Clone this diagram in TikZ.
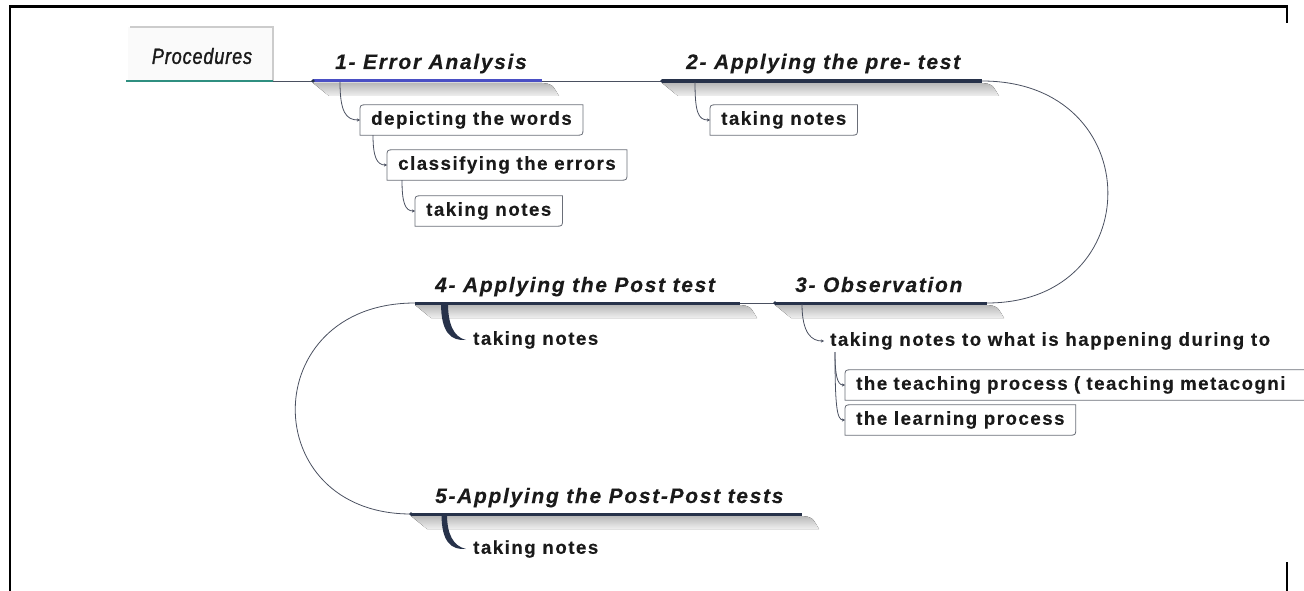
\documentclass[tikz,border=0pt]{standalone}
\usepackage{fontspec}
\setmainfont{Liberation Sans}
\usetikzlibrary{arrows.meta,calc}

\definecolor{spine}{HTML}{27324A}
\definecolor{spineblue}{HTML}{4A4FC4}
\definecolor{tabteal}{HTML}{2F8F80}
\definecolor{wire}{HTML}{4A5060}
\definecolor{boxline}{HTML}{6A6E78}
\definecolor{ink}{HTML}{1A1A1A}

\tikzset{
  frame/.style={line width=2.4pt, black, line join=miter},
  heading/.style={font=\fontsize{21}{23}\selectfont\bfseries\itshape\addfontfeature{LetterSpace=8,FakeBold=0.3},
                  text=ink, anchor=base west, inner sep=0pt},
  leaftext/.style={font=\fontsize{18.7}{20}\selectfont\bfseries\addfontfeature{LetterSpace=8,FakeBold=0.3},
                   text=ink, anchor=west, inner xsep=6pt, inner ysep=0pt},
  leafbox/.style={leaftext, inner xsep=11pt, minimum height=30pt},
  leafline/.style={draw=boxline, line width=0.8pt},
  proctext/.style={font=\fontsize{22}{24}\selectfont\itshape\addfontfeature{FakeStretch=0.82,FakeBold=1.4,LetterSpace=4},
                   text=ink, inner sep=0pt},
  wire/.style={draw=wire, line width=0.8pt},
  twig/.style={wire, -{Stealth[length=3.2pt,width=3.2pt]}},
  bar/.style={draw=spine, line width=3pt},
  barblue/.style={draw=spineblue, line width=3pt},
  drop/.style={top color=gray!55, bottom color=gray!12, draw=none},
  knot/.style={fill=spine},
}

% frame of a leaf box: rounded top-left and bottom-right corners
\newcommand\leafframe[1]{%
  \draw[leafline] (#1.south west) -- ([yshift=-7pt]#1.north west)
    .. controls (#1.north west) .. ([xshift=7pt]#1.north west)
    -- (#1.north east) -- ([yshift=7pt]#1.south east)
    .. controls (#1.south east) .. ([xshift=-7pt]#1.south east) -- cycle;}

% soft shadow under a topic bar
\newcommand\bardrop[2]{%
  \fill[drop] ($(#1)+(0,2)$) -- ($(#2)+(0,2)$) .. controls ($(#2)+(10,3)$) .. ($(#2)+(17,15)$)
    -- ($(#1)+(16,15)$) -- cycle;}

\begin{document}
\begin{tikzpicture}[x=1pt,y=-1pt]
\useasboundingbox (0,0) rectangle (1304,591);

% page frame
\draw[frame] (10,591) -- (10,6.5) -- (1287,6.5) -- (1287,23);
\draw[frame] (1287,562) -- (1287,591);

% bar end points
\coordinate (p0) at (126,81);  \coordinate (p1) at (273,81);
\coordinate (a1) at (313,81);  \coordinate (b1) at (542,81);
\coordinate (a2) at (662,81);  \coordinate (b2) at (982,81);
\coordinate (a3) at (775,303); \coordinate (b3) at (987,303);
\coordinate (a4) at (415,303); \coordinate (b4) at (740,303);
\coordinate (a5) at (411,514); \coordinate (b5) at (802,514);

% shadows
\bardrop{a1}{b1}
\bardrop{a2}{b2}
\bardrop{a3}{b3}
\bardrop{a4}{b4}
\bardrop{a5}{b5}

% root tab
\fill[gray!4] (128,27) rectangle (273,81);
\draw[gray!40, line width=1.4pt] (130,27) -- (273,27) -- (273,81);
\node[proctext] (proc) at (202,56) {Procedures};
\draw[tabteal, line width=2.6pt] (p0) -- (p1);

% links between topics
\draw[wire] (p1) -- (a1);
\draw[wire] (b1) -- (a2);
\draw[wire] (b2) .. controls (1149,81) and (1149,303) .. (b3);
\draw[wire] (b4) -- (a3);
\draw[wire] (a4) .. controls (256,303) and (256,514) .. (a5);

% topic bars
\draw[barblue] (a1) -- (b1);
\draw[bar, line width=3.4pt] (a2) -- (b2);
\draw[bar] (a3) -- (b3);
\draw[bar] (a4) -- (b4);
\draw[bar] (a5) -- (b5);
\foreach \k in {a1,a2,a3,a5} \fill[knot] (\k) circle (1.8);

% topic titles
\node[heading] (h1) at (335,69) {1- Error Analysis};
\node[heading] (h2) at (686,69) {2- Applying the pre- test};
\node[heading] (h3) at (795,292) {3- Observation};
\node[heading] (h4) at (435,292) {4- Applying the Post test};
\node[heading] (h5) at (435,503) {5-Applying the Post-Post tests};

% 1- Error Analysis
\node[leafbox] (e1) at (360,120) {depicting the words};
\node[leafbox] (e2) at (387,165) {classifying the errors};
\node[leafbox] (e3) at (415,211) {taking notes};
\leafframe{e1}\leafframe{e2}\leafframe{e3}
\coordinate (c1) at (340,82);
\draw[twig] (c1) .. controls +(0,30) and +(-14,0) .. (e1.west);
\draw[twig] ($(e1.south west)+(13,0)$) .. controls +(0,22) and +(-10,0) .. (e2.west);
\draw[twig] ($(e2.south west)+(15,0)$) .. controls +(0,22) and +(-10,0) .. (e3.west);

% 2- Applying the pre- test
\node[leafbox] (t2) at (710,120) {taking notes};
\leafframe{t2}
\coordinate (c2) at (695,82);
\draw[twig] (c2) .. controls +(0,30) and +(-12,0) .. (t2.west);

% 3- Observation
\node[leaftext] (o1) at (824,341) {taking notes to what is happening during to};
\node[leafbox, minimum width=500pt, text width=478pt, align=left] (o2) at (845,385) {the teaching process ( teaching metacogni};
\node[leafbox] (o3) at (845,420) {the learning process};
\leafframe{o2}\leafframe{o3}
\coordinate (c3) at (802,304);
\draw[twig] (c3) .. controls +(0,30) and +(-12,0) .. (o1.west);
\coordinate (c31) at ($(o1.west)+(11,11)$);
\draw[twig] (c31) .. controls +(0,22) and +(-8,0) .. (o2.west);
\draw[twig] (c31) .. controls +(0,55) and +(-8,0) .. (o3.west);

% 4- Applying the Post test
\node[leaftext] (t4) at (467,340) {taking notes};
\coordinate (c4) at (444,303);
\fill[spine] ($(c4)+(-3,0)$) .. controls ($(c4)+(-3,30)$) and ($(t4.west)+(-16,1)$) .. ($(t4.west)+(-1,0)$)
  .. controls ($(t4.west)+(-14,-3)$) and ($(c4)+(4,20)$) .. ($(c4)+(4,0)$) -- cycle;

% 5-Applying the Post-Post tests
\node[leaftext] (t5) at (467,549) {taking notes};
\coordinate (c5) at (444,514);
\fill[spine] ($(c5)+(-2.5,0)$) .. controls ($(c5)+(-2.5,28)$) and ($(t5.west)+(-16,1)$) .. ($(t5.west)+(-1,0)$)
  .. controls ($(t5.west)+(-14,-3)$) and ($(c5)+(3,20)$) .. ($(c5)+(3,0)$) -- cycle;
\end{tikzpicture}
\end{document}
